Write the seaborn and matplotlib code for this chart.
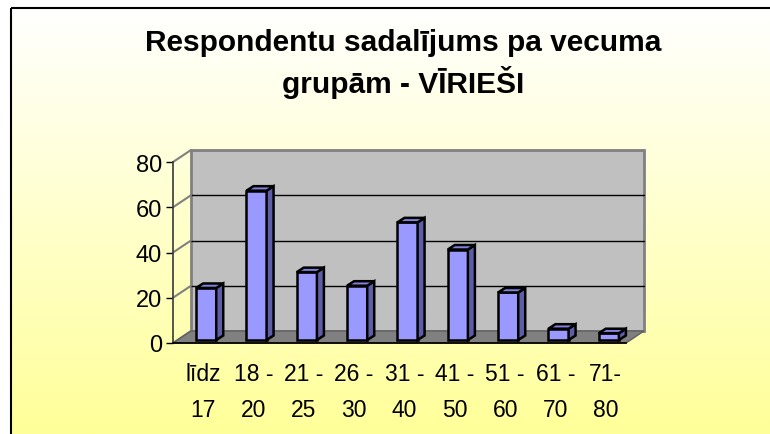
import numpy as np
import pandas as pd
import seaborn as sns
import matplotlib.pyplot as plt
from matplotlib.patches import Polygon, Rectangle
from matplotlib.transforms import ScaledTranslation

title = "Respondentu sadalījums pa vecuma\ngrupām - VĪRIEŠI"
age_groups = ["līdz\n17", "18 -\n20", "21 -\n25", "26 -\n30", "31 -\n40",
              "41 -\n50", "51 -\n60", "61 -\n70", "71-\n80"]
respondents = [23, 66, 30, 24, 52, 40, 21, 5, 3]
y_ticks = [0, 20, 40, 60, 80]

sns.set_theme(style="white")
plt.rcParams['font.family'] = ['Liberation Sans', 'DejaVu Sans']
plt.rcParams['text.color'] = 'black'
plt.rcParams['xtick.color'] = 'black'
plt.rcParams['ytick.color'] = 'black'
plt.rcParams['axes.labelcolor'] = 'black'

W, H = 770, 435
fig = plt.figure(figsize=(W / 100, H / 100), dpi=100)
fig.patch.set_facecolor("white")

# background: white -> light yellow gradient inside a black frame
bg = fig.add_axes([0, 0, 1, 1], zorder=-10)
grad = np.linspace(0, 1, 256)[:, None]
c_top = np.array([1.0, 1.0, 1.0])
c_bot = np.array([1.0, 1.0, 0.6])
img = c_top + (c_bot - c_top) * grad[:, :, None]
bg.imshow(img, aspect="auto", extent=[11, W + 5, H, 9])
bg.set_xlim(0, W)
bg.set_ylim(H, 0)
bg.add_patch(Rectangle((11, 9), W, H, fill=False, edgecolor="black", lw=1.5))
bg.axis("off")

# plot area (front plane)
x0, x1, y0, y1 = 173, 626, 344, 163
ax = fig.add_axes([x0 / W, 1 - y0 / H, (x1 - x0) / W, (y0 - y1) / H])
ax.set_facecolor("none")

df = pd.DataFrame({"group": age_groups, "count": respondents})
sns.barplot(data=df, x="group", y="count", color="#9999FF", width=0.4,
            edgecolor="black", linewidth=1.8, saturation=1, ax=ax, zorder=3)

ax.set_xlim(-0.5, len(age_groups) - 0.5)
ax.set_ylim(0, 80)

# pixel -> data unit conversion
ux = len(age_groups) / (x1 - x0)
uy = 80 / (y0 - y1)
wall_dx, wall_dy = 18 * ux, 12 * uy
bar_dx, bar_dy = 8 * ux, 3 * uy
dep_dx, dep_dy = 7 * ux, 4.5 * uy

xa, xb = -0.5, len(age_groups) - 0.5

# back wall
ax.add_patch(Rectangle((xa + wall_dx, wall_dy), xb - xa, 80, facecolor="#C0C0C0",
                       edgecolor="#808080", lw=2, clip_on=False, zorder=0))
# floor
ax.add_patch(Polygon([(xa, 0), (xb, 0), (xb + wall_dx, wall_dy), (xa + wall_dx, wall_dy)],
                     closed=True, facecolor="#808080", edgecolor="#606060", lw=1,
                     clip_on=False, zorder=1))
# gridlines on back wall and left wall
for t in y_ticks:
    if 0 < t < 80:
        ax.plot([xa + wall_dx, xb + wall_dx], [t + wall_dy, t + wall_dy],
                color="black", lw=1, clip_on=False, zorder=0.5)
    ax.plot([xa, xa + wall_dx], [t, t + wall_dy], color="#808080", lw=1.5,
            clip_on=False, zorder=0.5)

# 3D bars: shift fronts and add sides/tops
for p in ax.patches:
    if p.get_facecolor()[:3] != (0.6, 0.6, 1.0):
        continue
    bx = p.get_x() + bar_dx
    bw = p.get_width()
    bh = p.get_height()
    p.set_x(bx)
    p.set_y(bar_dy)
    side = Polygon([(bx + bw, bar_dy), (bx + bw + dep_dx, bar_dy + dep_dy),
                    (bx + bw + dep_dx, bar_dy + bh + dep_dy), (bx + bw, bar_dy + bh)],
                   closed=True, facecolor="#5E5EA8", edgecolor="black", lw=1.8,
                   clip_on=False, zorder=3)
    top = Polygon([(bx, bar_dy + bh), (bx + bw, bar_dy + bh),
                   (bx + bw + dep_dx, bar_dy + bh + dep_dy), (bx + dep_dx, bar_dy + bh + dep_dy)],
                  closed=True, facecolor="#8080DD", edgecolor="black", lw=1.8,
                  clip_on=False, zorder=3)
    ax.add_patch(side)
    ax.add_patch(top)
    p.set_clip_on(False)

for s in ["top", "right"]:
    ax.spines[s].set_visible(False)
ax.spines["left"].set_color("#404040")
ax.spines["bottom"].set_color("black")
ax.spines["left"].set_zorder(2)
ax.spines["bottom"].set_zorder(2)

ax.set_yticks(y_ticks)
ax.set_xticks(np.arange(-0.5, len(age_groups), 1), minor=True)
ax.tick_params(axis="x", which="major", length=0, pad=14, labelsize=16.5)
ax.tick_params(axis="x", which="minor", length=5, width=1, color="black", direction="out")
ax.tick_params(axis="y", length=5, width=1, color="black", direction="out", pad=3,
               labelsize=17, left=True)
for lab in ax.get_xticklabels():
    lab.set_linespacing(1.7)
    lab.set_transform(lab.get_transform() + ScaledTranslation(5 / 100, 0, fig.dpi_scale_trans))
ax.set_xlabel("")
ax.set_ylabel("")

fig.text(0.524, 1 - 64 / H, title, ha="center", va="center", fontsize=21.5,
         fontweight="bold", linespacing=1.3)

fig.savefig("out.png", dpi=100)
